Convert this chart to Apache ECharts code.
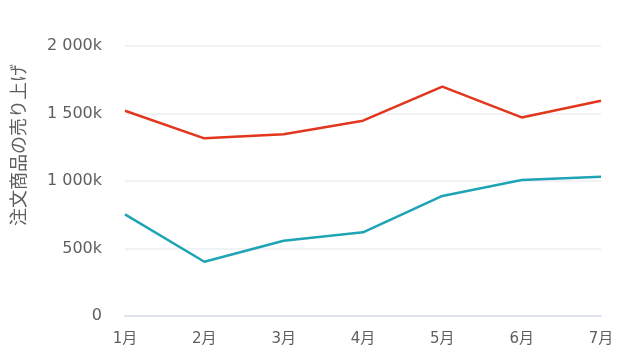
<!DOCTYPE html>
<html>
<head>
<meta charset="utf-8">
<script src="https://cdn.jsdelivr.net/npm/echarts@6/dist/echarts.min.js"></script>
<style>html,body{margin:0;padding:0;background:#fff;}#c{width:630px;height:354px;}</style>
</head>
<body>
<div id="c"></div>
<script>
const categories = ['1月','2月','3月','4月','5月','6月','7月'];
const seriesRed = [1520000, 1316000, 1346000, 1447000, 1699000, 1471000, 1595000];
const seriesTeal = [753000, 402000, 558000, 620000, 889000, 1007000, 1032000];
const yAxisName = '注文商品の売り上げ';

function fmt(v){
  if (v === 0) return '0';
  const k = Math.round(v/1000);
  return String(k).replace(/\B(?=(\d{3})+(?!\d))/g, ' ') + 'k';
}

const chart = echarts.init(document.getElementById('c'));
const font = '"DejaVu Sans", "Noto Sans CJK JP", sans-serif';
const cjk = '"Noto Sans CJK JP", sans-serif';
chart.setOption({
  animation: false,
  grid: {left: 125, right: 29, top: 46, bottom: 38},
  xAxis: {
    type: 'category', data: categories, boundaryGap: false,
    axisLine: {lineStyle: {color: '#dfe3ee', width: 2}},
    axisTick: {show: false},
    axisLabel: {color: '#5f5f5f', fontSize: 15, margin: 16, fontFamily: font}
  },
  yAxis: {
    type: 'value', min: 0, max: 2000000, interval: 500000,
    axisLine: {show: false}, axisTick: {show: false},
    axisLabel: {color: '#5f5f5f', fontSize: 16, margin: 23, formatter: fmt, fontFamily: font},
    splitLine: {lineStyle: {color: '#eceef3', width: 1.5}}
  },
  graphic: [{
    type: 'text', left: 9, top: 64, rotation: Math.PI/2,
    style: {text: yAxisName, fill: '#5f5f5f', font: '18px ' + cjk}
  }],
  series: [
    {type: 'line', data: seriesRed, showSymbol: false, lineStyle: {color: '#e2361d', width: 2.5}, itemStyle: {color: '#e2361d'}},
    {type: 'line', data: seriesTeal, showSymbol: false, lineStyle: {color: '#1ea4b4', width: 2.5}, itemStyle: {color: '#1ea4b4'}}
  ]
});
</script>
</body>
</html>
